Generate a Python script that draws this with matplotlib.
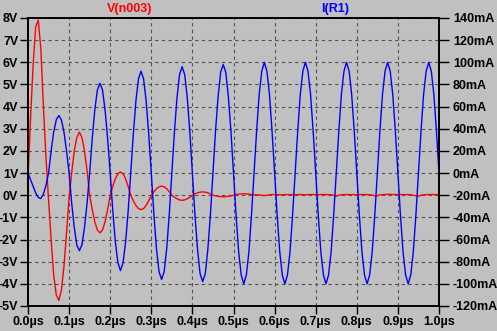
import numpy as np
import matplotlib
matplotlib.use("Agg")
import matplotlib.pyplot as plt

plt.rcParams['font.family'] = ['Liberation Sans', 'DejaVu Sans']
plt.rcParams['font.weight'] = 'bold'

# === DATA (one sample every 6.25 ns) ===
T_STEP_US = 0.00625

v_n003 = [
    0.8, 3.5, 5.9, 7.6, 7.9, 6.6, 4.0, 1.7, -0.2,
    -2.0, -3.6, -4.5, -4.75, -4.3, -3.2, -1.7, -0.1,
    1.0, 2.0, 2.6, 2.85, 2.6, 2.0, 1.1, 0.0,
    -0.65, -1.2, -1.57, -1.7, -1.57, -1.2, -0.65, 0.0,
    0.4, 0.74, 0.97, 1.05, 0.97, 0.74, 0.4, 0.0,
    -0.25, -0.46, -0.6, -0.65, -0.6, -0.46, -0.25, 0.0,
    0.16, 0.29, 0.38, 0.41, 0.38, 0.29, 0.16, 0.0,
    -0.09, -0.16, -0.21, -0.23, -0.21, -0.16, -0.09, 0.0,
    0.06, 0.11, 0.14, 0.15, 0.14, 0.11, 0.06, 0.0,
    -0.03, -0.05, -0.06, -0.07, -0.06, -0.05, -0.03, 0.0,
    0.03, 0.05, 0.06, 0.07, 0.06, 0.05, 0.03, 0.02,
    0.02, 0.01, 0.0, -0.02, 0.0, 0.02, 0.03, 0.03,
    0.03, 0.02, 0.02, 0.03, 0.03, 0.03, 0.02, 0.02,
    0.03, 0.03, 0.03, 0.02, 0.03, 0.03, 0.03, 0.03,
    0.02, 0.03, 0.03, 0.03, 0.03, 0.02, 0.0, -0.04,
    0.0, 0.02, 0.03, 0.03, 0.03, 0.03, 0.03, 0.02,
    0.03, 0.03, 0.03, 0.03, 0.02, 0.01, -0.03, -0.02,
    0.02, 0.03, 0.03, 0.04, 0.04, 0.03, 0.03, 0.03,
    0.03, 0.03, 0.03, 0.03, 0.02, 0.0, -0.03, -0.04,
    0.0, 0.02, 0.03, 0.03, 0.03, 0.03, 0.03, 0.03,
]

i_r1_ma = [
    0, -6, -12, -18, -22, -23, -19, -11, 0,
    20, 37, 48, 52, 48, 37, 20, 0,
    -27, -49, -65, -70, -65, -49, -27, 0,
    31, 57, 75, 81, 75, 57, 31, 0,
    -34, -62, -81, -88, -81, -62, -34, 0,
    35, 65, 85, 92, 85, 65, 35, 0,
    -37, -68, -89, -96, -89, -68, -37, 0,
    37, 68, 89, 96, 89, 68, 37, 0,
    -38, -69, -91, -98, -91, -69, -38, 0,
    38, 69, 91, 98, 91, 69, 38, 0,
    -38, -71, -92, -100, -92, -71, -38, 0,
    38, 71, 92, 100, 92, 71, 38, 0,
    -38, -71, -92, -100, -92, -71, -38, 0,
    38, 71, 92, 100, 92, 71, 38, 0,
    -38, -71, -92, -100, -92, -71, -38, 0,
    38, 71, 92, 100, 92, 71, 38, 0,
    -38, -71, -92, -100, -92, -71, -38, 0,
    38, 71, 92, 100, 92, 71, 38, 0,
    -38, -71, -92, -100, -92, -71, -38, 0,
    38, 71, 92, 100, 92, 71, 38, 0,
]

x_ticks = [0.0, 0.1, 0.2, 0.3, 0.4, 0.5, 0.6, 0.7, 0.8, 0.9, 1.0]
x_labels = ['0.0µs', '0.1µs', '0.2µs', '0.3µs', '0.4µs', '0.5µs',
            '0.6µs', '0.7µs', '0.8µs', '0.9µs', '1.0µs']
v_ticks = [-5, -4, -3, -2, -1, 0, 1, 2, 3, 4, 5, 6, 7, 8]
v_labels = ['-5V', '-4V', '-3V', '-2V', '-1V', '0V', '1V', '2V',
            '3V', '4V', '5V', '6V', '7V', '8V']
i_ticks = [-120, -100, -80, -60, -40, -20, 0, 20, 40, 60, 80, 100, 120, 140]
i_labels = ['-120mA', '-100mA', '-80mA', '-60mA', '-40mA', '-20mA', '0mA',
            '20mA', '40mA', '60mA', '80mA', '100mA', '120mA', '140mA']

time = np.arange(len(v_n003)) * T_STEP_US

# === PLOT ===
BG = '#c0c0c0'
fig = plt.figure(figsize=(4.97, 3.31), dpi=100, facecolor=BG)
ax = fig.add_axes([28 / 497, 25 / 331, 411 / 497, 288 / 331])
ax.set_facecolor(BG)

ax.plot(time, v_n003, color='#ff0000', lw=1.0)
ax.set_xlim(0, 1)
ax.set_ylim(-5, 8)
ax.set_xticks(x_ticks)
ax.set_xticklabels(x_labels)
ax.set_yticks(v_ticks)
ax.set_yticklabels(v_labels)
ax.grid(True, color='#505050', ls=(0, (3, 3)), lw=0.8)
ax.tick_params(direction='out', length=6, width=1, labelsize=9, pad=1, colors='black')

ax2 = ax.twinx()
ax2.plot(time, i_r1_ma, color='#0000ff', lw=1.0)
ax2.set_ylim(-120, 140)
ax2.set_yticks(i_ticks)
ax2.set_yticklabels(i_labels)
ax2.tick_params(direction='out', length=7, width=1, labelsize=9, pad=3, colors='black')

for a in (ax, ax2):
    for s in a.spines.values():
        s.set_color('black')
        s.set_linewidth(1.2)

fig.text(130 / 497, 1 - 9 / 331, 'V(n003)', color='#ff0000', ha='center', va='center',
         fontsize=9, fontweight='bold')
fig.text(335 / 497, 1 - 9 / 331, 'I(R1)', color='#0000ff', ha='center', va='center',
         fontsize=9, fontweight='bold')

fig.savefig('out.png', dpi=100, facecolor=BG)
